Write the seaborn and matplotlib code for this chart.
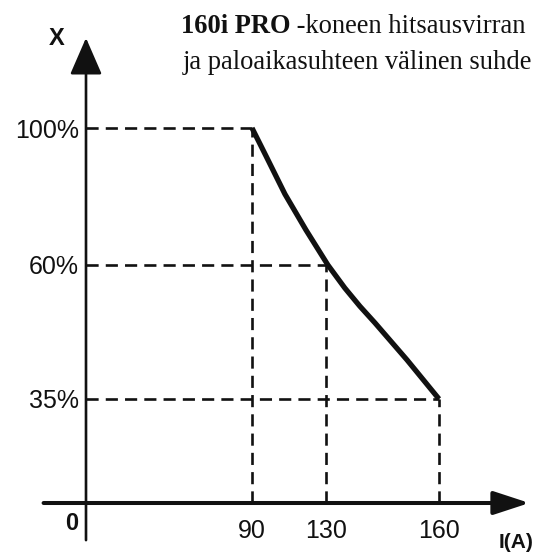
import matplotlib
matplotlib.use("Agg")
import matplotlib.pyplot as plt
import seaborn as sns
import numpy as np
import pandas as pd

# curve (current in A, duty cycle in %)
current = [90, 97.6, 107.8, 119.2, 130.5, 135.0, 139.0, 143.0, 151.5, 160]
duty = [100, 91.8, 80.7, 70.2, 60, 55.7, 52.3, 49.2, 42.3, 35]

x_ticks = [90, 130, 160]
x_tick_labels = ["90", "130", "160"]
y_ticks = [35, 60, 100]
y_tick_labels = ["35%", "60%", "100%"]
rated_i = [90, 130, 160]
rated_x = [100, 60, 35]

title_bold = "160i PRO"
title_rest = " -koneen hitsausvirran"
title_line2 = "ja paloaikasuhteen välinen suhde"

# schematic (non-linear) axes: data value -> pixel anchors
X_ANCHOR = ([0, 90, 130, 160], [86, 252, 326, 439])
Y_ANCHOR = ([0, 35, 60, 100], [552 - 503, 552 - 399, 552 - 265, 552 - 128])
W, H = 542, 552


def piecewise(d, p):
    d = np.asarray(d, float)
    p = np.asarray(p, float)
    s0 = (p[1] - p[0]) / (d[1] - d[0])
    s1 = (p[-1] - p[-2]) / (d[-1] - d[-2])

    def fwd(v):
        v = np.asarray(v, float)
        out = np.interp(v, d, p)
        out = np.where(v < d[0], p[0] + (v - d[0]) * s0, out)
        out = np.where(v > d[-1], p[-1] + (v - d[-1]) * s1, out)
        return out

    def inv(v):
        v = np.asarray(v, float)
        out = np.interp(v, p, d)
        out = np.where(v < p[0], d[0] + (v - p[0]) / s0, out)
        out = np.where(v > p[-1], d[-1] + (v - p[-1]) / s1, out)
        return out

    return fwd, inv


sns.set_theme(style="white")
plt.rcParams["font.family"] = ["Liberation Sans", "DejaVu Sans"]

fig = plt.figure(figsize=(W / 100, H / 100), dpi=100)
ax = fig.add_axes([0, 0, 1, 1])
fx, ix = piecewise(*X_ANCHOR)
fy, iy = piecewise(*Y_ANCHOR)
ax.set_xscale("function", functions=(fx, ix))
ax.set_yscale("function", functions=(fy, iy))
ax.set_xlim(float(ix(0)), float(ix(W)))
ax.set_ylim(float(iy(0)), float(iy(H)))
ax.set_facecolor("white")

# dashed guide lines
dash = dict(color="#111111", lw=1.9, linestyle=(0, (4.6, 2.7)), zorder=2)
for xv, yv in zip(rated_i, rated_x):
    ax.plot([0, xv], [yv, yv], **dash)
    ax.plot([xv, xv], [0, yv], **dash)

df = pd.DataFrame({"I": current, "X": duty})
sns.lineplot(data=df, x="I", y="X", color="#111111", lw=3.8, sort=False,
             ax=ax, zorder=3, solid_capstyle="butt", solid_joinstyle="round")

# axes with arrow heads
ax.annotate("", xy=(184, 0), xytext=(-23, 0),
            arrowprops=dict(arrowstyle="-|>,head_length=1.1,head_width=0.36",
                            lw=2.9, color="#111111", mutation_scale=20,
                            shrinkA=0, shrinkB=0), zorder=4)
ax.annotate("", xy=(0, 126.3), xytext=(0, -12.5),
            arrowprops=dict(arrowstyle="-|>,head_length=1.15,head_width=0.5",
                            lw=1.9, color="#111111", mutation_scale=20,
                            shrinkA=0, shrinkB=0), zorder=4)

for s in ax.spines.values():
    s.set_visible(False)
ax.spines["bottom"].set_position(("data", 0))
ax.spines["left"].set_position(("data", 0))
ax.set_xticks(x_ticks, x_tick_labels)
ax.set_yticks(y_ticks, y_tick_labels)
ax.tick_params(axis="x", length=0, pad=11.5, labelsize=18, labelcolor="#111111")
ax.tick_params(axis="y", length=0, pad=5, labelsize=18, labelcolor="#111111")
ax.set_xlabel("")
ax.set_ylabel("")
ax.grid(False)

ax.annotate("0", xy=(0, 0), xytext=(-14, -21), textcoords="offset pixels",
            ha="center", va="center", fontsize=17, fontweight="bold", color="#111111")
ax.annotate("X", xy=(0, 126.3), xytext=(-29, -1), textcoords="offset pixels",
            ha="center", va="center", fontsize=17, fontweight="bold", color="#111111")
ax.annotate("I(A)", xy=(184, 0), xytext=(-13, -30), textcoords="offset pixels",
            ha="center", va="top", fontsize=15, fontweight="bold", color="#111111")

serif = ["Liberation Serif", "DejaVu Serif"]
t1 = fig.text(181 / W, 1 - 33 / H, title_bold, family=serif, fontsize=19.1,
              fontweight="bold", va="baseline", ha="left", color="#111111")
fig.canvas.draw()
ax.annotate(title_rest, xy=(1, 0), xycoords=t1, va="bottom", ha="left",
            family=serif, fontsize=19.1, color="#111111", annotation_clip=False)
fig.text(183 / W, 1 - 69 / H, title_line2, family=serif, fontsize=19.1,
         va="baseline", ha="left", color="#111111")

fig.savefig("out.png", dpi=100)
plt.close(fig)
